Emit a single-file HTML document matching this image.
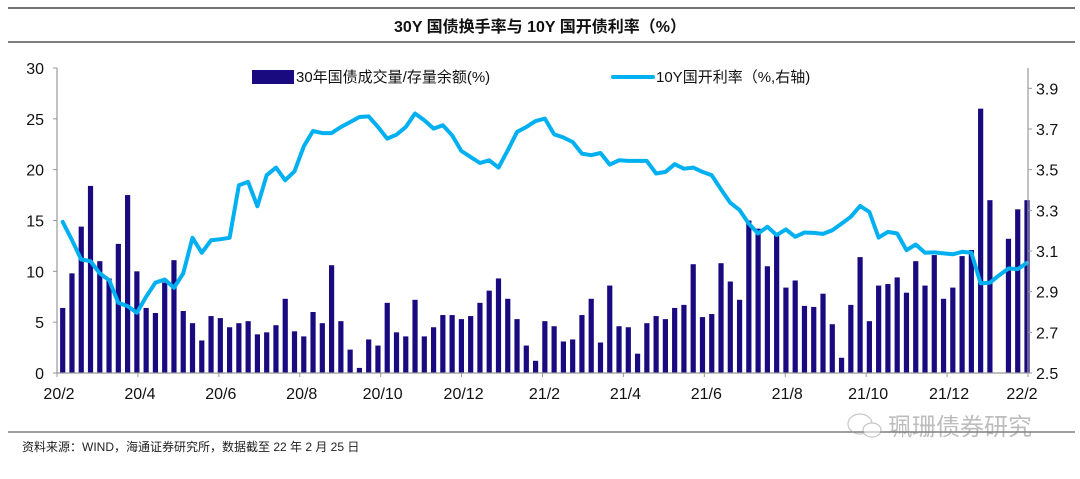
<!DOCTYPE html>
<html><head><meta charset="utf-8">
<style>
html,body{margin:0;padding:0;background:#fff;}
body{width:1080px;height:474px;overflow:hidden;position:relative;font-family:"Liberation Sans","Noto Sans CJK SC",sans-serif;}
</style></head>
<body>
<svg id="chart" width="1080" height="474" xmlns="http://www.w3.org/2000/svg">
  <line x1="8" y1="8" x2="1075" y2="8" stroke="#444" stroke-width="1.5"/>
  <text x="540" y="32" text-anchor="middle" font-size="16" font-weight="bold" fill="#111" font-family="Liberation Sans, Noto Sans CJK SC, sans-serif">30Y 国债换手率与 10Y 国开债利率（%）</text>
  <line x1="8" y1="42" x2="1075" y2="42" stroke="#555" stroke-width="1.5"/>
  <g id="plot"></g>
  <g>
    <rect x="252" y="70" width="42" height="14" fill="#1a0a80"/>
    <text x="296" y="82" font-size="15" fill="#111">30年国债成交量/存量余额(%)</text>
    <line x1="613" y1="77" x2="653" y2="77" stroke="#00b0f0" stroke-width="4" stroke-linecap="round"/>
    <text x="656" y="82" font-size="15" fill="#111">10Y国开利率（%,右轴)</text>
  </g>
  <line x1="8" y1="432" x2="1075" y2="432" stroke="#666" stroke-width="1.2"/>
  <text x="22" y="451" font-size="12" fill="#222">资料来源：WIND，海通证券研究所，数据截至 22 年 2 月 25 日</text>
  <g opacity="0.55">
    <ellipse cx="860" cy="424" rx="12" ry="10" fill="none" stroke="#999" stroke-width="1.2"/>
    <ellipse cx="872" cy="430" rx="9" ry="7" fill="#fff" stroke="#999" stroke-width="1.2"/>
    <text x="888" y="435" font-size="24" fill="#888" font-family="Noto Sans CJK SC, sans-serif">珮珊债券研究</text>
  </g>
</svg>
<script>
const xLabels = ["20/2","20/4","20/6","20/8","20/10","20/12","21/2","21/4","21/6","21/8","21/10","21/12","22/2"];
const leftTicks = [0,5,10,15,20,25,30];
const rightTicks = [2.5,2.7,2.9,3.1,3.3,3.5,3.7,3.9];
const turnover = [6.4,9.8,14.4,18.4,11.0,9.3,12.7,17.5,10.0,6.4,5.9,8.9,11.1,6.1,4.9,3.2,5.6,5.4,4.5,4.9,5.1,3.8,4.0,4.7,7.3,4.1,3.6,6.0,4.9,10.6,5.1,2.3,0.5,3.3,2.7,6.9,4.0,3.6,7.2,3.6,4.5,5.7,5.7,5.3,5.6,6.9,8.1,9.3,7.3,5.3,2.7,1.2,5.1,4.6,3.1,3.3,5.7,7.3,3.0,8.6,4.6,4.5,1.9,4.9,5.6,5.3,6.4,6.7,10.7,5.5,5.8,10.8,9.0,7.2,15.0,14.2,10.5,13.7,8.4,9.1,6.6,6.5,7.8,4.8,1.5,6.7,11.4,5.1,8.6,8.75,9.4,7.9,11.0,8.6,11.6,7.3,8.4,11.5,12.1,26.0,17.0,0,13.2,16.1,17.0];
const yield10 = [3.243,3.153,3.058,3.050,2.990,2.957,2.845,2.829,2.796,2.875,2.944,2.960,2.919,2.990,3.165,3.091,3.153,3.158,3.165,3.423,3.440,3.320,3.473,3.510,3.448,3.492,3.615,3.690,3.680,3.680,3.710,3.734,3.759,3.762,3.710,3.653,3.672,3.710,3.776,3.743,3.702,3.718,3.669,3.592,3.562,3.533,3.546,3.510,3.595,3.685,3.710,3.739,3.751,3.674,3.658,3.636,3.579,3.571,3.582,3.525,3.546,3.543,3.543,3.543,3.481,3.489,3.527,3.505,3.510,3.489,3.473,3.403,3.337,3.301,3.235,3.186,3.219,3.178,3.206,3.170,3.191,3.189,3.184,3.202,3.235,3.268,3.322,3.292,3.166,3.194,3.186,3.104,3.132,3.091,3.093,3.088,3.084,3.096,3.091,2.941,2.944,2.981,3.014,3.011,3.042];

const NS = "http://www.w3.org/2000/svg";
const plot = document.getElementById('plot');
const L = 57, R = 1028, T = 68, B = 373;
const yL = v => B - (v / 30) * (B - T);
const yR = v => B - ((v - 2.5) / 1.5) * (B - T);
const n = turnover.length;
const xI = i => 62.7 + i * (1027 - 62.7) / (n - 1);
const xTick = k => L + k * (R - L) / (xLabels.length - 1);
function mk(tag, attrs) { const e = document.createElementNS(NS, tag); for (const k in attrs) e.setAttribute(k, attrs[k]); plot.appendChild(e); return e; }

turnover.forEach((v, i) => {
  if (v <= 0) return;
  const b = mk('rect', {x: xI(i) - 2.6, y: yL(v), width: 5.2, height: B - yL(v), fill: '#1a0a80'});
  
  
});

const pts = yield10.map((v, i) => xI(i).toFixed(1) + ',' + yR(v).toFixed(1)).join(' ');
const ln = mk('polyline', {points: pts, fill: 'none', stroke: '#00b0f0', 'stroke-width': 4, 'stroke-linejoin': 'round', 'stroke-linecap': 'round'});



const la = mk('line', {x1: L, y1: T, x2: L, y2: B, stroke: '#999', 'stroke-width': 1.2});


const ra = mk('line', {x1: R, y1: T, x2: R, y2: B, stroke: '#999', 'stroke-width': 1.2});


const xa = mk('line', {x1: L, y1: B, x2: R, y2: B, stroke: '#999', 'stroke-width': 1.2});



leftTicks.forEach(v => {
  const y = yL(v);
  mk('line', {x1: L - 4, y1: y, x2: L, y2: y, stroke: '#999'});
  const t = mk('text', {x: L - 13, y: y + 6, 'text-anchor': 'end', 'font-size': 16, fill: '#111'});
  t.textContent = v;
  
  
});
rightTicks.forEach(v => {
  const y = yR(v);
  mk('line', {x1: R, y1: y, x2: R + 4, y2: y, stroke: '#999'});
  const t = mk('text', {x: R + 8, y: y + 6, 'font-size': 16, fill: '#111'});
  t.textContent = v.toFixed(1);
  
  
});
xLabels.forEach((s, k) => {
  const x = xTick(k);
  mk('line', {x1: x, y1: B, x2: x, y2: B + 4, stroke: '#999'});
  const t = mk('text', {x: Math.min(x + 2, 1022), y: B + 26, 'text-anchor': 'middle', 'font-size': 16, fill: '#111'});
  t.textContent = s;
  
  
});
</script>
</body></html>
